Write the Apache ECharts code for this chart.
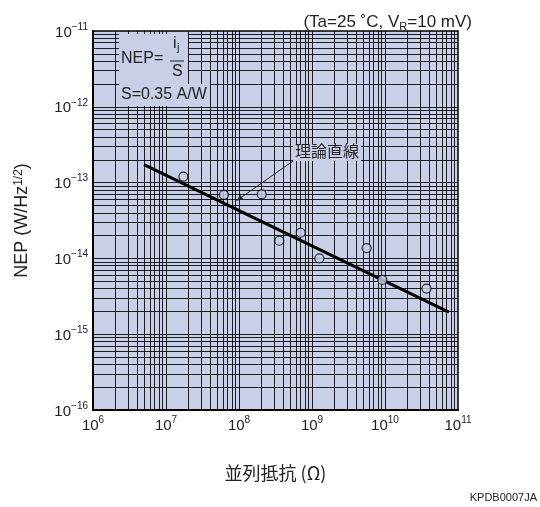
<!DOCTYPE html>
<html>
<head>
<meta charset="utf-8">
<script src="https://cdn.jsdelivr.net/npm/echarts@6/dist/echarts.min.js"></script>
<style>
html, body { margin: 0; padding: 0; background: #fff; }
#chart { width: 540px; height: 507px; }
</style>
</head>
<body>
<div id="chart"></div>
<script>
var resistance = [1.73e7, 6.2e7, 2.05e8, 3.56e8, 7.0e8, 1.26e9, 5.6e9, 9.2e9, 3.7e10];
var nep = [1.2e-13, 6.9e-14, 7.0e-14, 1.71e-14, 2.18e-14, 1.0e-14, 1.37e-14, 5.2e-15, 4.0e-15];

// theoretical line end points
var theoryR = [5.0e6, 7.5e10];
var theoryNep = [1.73e-13, 1.96e-15];

var xDecades = [6, 7, 8, 9, 10, 11];
var yDecades = [-16, -15, -14, -13, -12, -11];

var BG = '#c8cfe7';
var FONT = '"Liberation Sans", Arial, sans-serif';
var CJK = '"Noto Sans CJK JP", "Noto Sans CJK SC", sans-serif';

var xMin = Math.pow(10, xDecades[0]), xMax = Math.pow(10, xDecades[xDecades.length - 1]);
var yMin = Math.pow(10, yDecades[0]), yMax = Math.pow(10, yDecades[yDecades.length - 1]);

function gridValues(decades) {
    var out = [];
    for (var i = 0; i < decades.length - 1; i++) {
        for (var m = 1; m <= 9; m++) {
            if (m === 1 && i === 0) continue;
            out.push(m * Math.pow(10, decades[i]));
        }
    }
    return out;
}

// log grid as line segments in data space
var gridLines = [];
gridValues(xDecades).forEach(function (v) { gridLines.push({ coords: [[v, yMin], [v, yMax]] }); });
gridValues(yDecades).forEach(function (v) { gridLines.push({ coords: [[xMin, v], [xMax, v]] }); });

function powLabel(v) {
    var e = Math.round(Math.log10(v));
    var s = e < 0 ? '\u2212' + (-e) : '' + e;
    return '{b|10}{s|' + s + '}';
}

var powRich = {
    b: { fontFamily: FONT, fontSize: 15, color: '#222', lineHeight: 18, verticalAlign: 'bottom' },
    s: { fontFamily: FONT, fontSize: 10, color: '#222', lineHeight: 10, verticalAlign: 'top' }
};

var chart = echarts.init(document.getElementById('chart'));

chart.setOption({
    animation: false,
    backgroundColor: '#fff',
    title: {
        text: '(Ta=25 \u02daC, V{r|R}=10 mV)',
        right: 63,
        top: 7,
        textStyle: {
            fontFamily: FONT, fontSize: 17, fontWeight: 'normal', color: '#222', lineHeight: 20,
            rich: { r: { fontFamily: FONT, fontSize: 11, color: '#222', verticalAlign: 'bottom', lineHeight: 16 } }
        }
    },
    grid: {
        left: 93, right: 82, top: 31, bottom: 97,
        show: true,
        backgroundColor: BG,
        borderColor: '#000',
        borderWidth: 1.5
    },
    xAxis: {
        type: 'log',
        logBase: 10,
        min: xMin,
        max: xMax,
        name: '並列抵抗 (Ω)',
        nameLocation: 'middle',
        nameGap: 54,
        nameTextStyle: { fontFamily: CJK, fontSize: 18, color: '#222' },
        axisLine: { lineStyle: { color: '#000', width: 2 } },
        axisTick: { show: false },
        splitLine: { show: false },
        axisLabel: { formatter: powLabel, rich: powRich, margin: 5 }
    },
    yAxis: {
        type: 'log',
        logBase: 10,
        min: yMin,
        max: yMax,
        name: 'NEP (W/Hz{s|1/2})',
        nameLocation: 'middle',
        nameGap: 62,
        nameTextStyle: {
            fontFamily: FONT, fontSize: 18, color: '#222',
            rich: { s: { fontFamily: FONT, fontSize: 12, color: '#222', verticalAlign: 'top', lineHeight: 12 } }
        },
        axisLine: { lineStyle: { color: '#000', width: 2 } },
        axisTick: { show: false },
        splitLine: { show: false },
        axisLabel: { formatter: powLabel, rich: powRich, margin: 5 }
    },
    series: [
        {
            name: 'grid',
            type: 'lines',
            coordinateSystem: 'cartesian2d',
            silent: true,
            z: 1,
            lineStyle: { color: '#000', width: 1, opacity: 0.85 },
            data: gridLines
        },
        {
            name: '理論直線',
            type: 'line',
            data: theoryR.map(function (r, i) { return [r, theoryNep[i]]; }),
            showSymbol: false,
            lineStyle: { color: '#000', width: 3 },
            z: 5
        },
        {
            name: 'NEP',
            type: 'scatter',
            data: resistance.map(function (r, i) { return [r, nep[i]]; }),
            symbol: 'circle',
            symbolSize: 9,
            itemStyle: { color: BG, borderColor: '#000', borderWidth: 1.2 },
            z: 6
        }
    ],
    graphic: [
        // formula box in the upper left corner
        { type: 'rect', z: 10, shape: { x: 119, y: 34, width: 69, height: 58 }, style: { fill: BG } },
        { type: 'rect', z: 10, shape: { x: 119, y: 84, width: 91, height: 22 }, style: { fill: BG } },
        { type: 'text', z: 11, left: 121, top: 51, style: { text: 'NEP=', font: '16px ' + FONT, fill: '#222' } },
        { type: 'text', z: 11, left: 173, top: 36, style: { text: 'i', font: '16px ' + FONT, fill: '#222' } },
        { type: 'text', z: 11, left: 177, top: 42, style: { text: 'j', font: '11px ' + FONT, fill: '#222' } },
        { type: 'line', z: 11, shape: { x1: 170, y1: 61, x2: 184, y2: 61 }, style: { stroke: '#222', lineWidth: 1 } },
        { type: 'text', z: 11, left: 172, top: 64, style: { text: 'S', font: '16px ' + FONT, fill: '#222' } },
        { type: 'text', z: 11, left: 121, top: 87, style: { text: 'S=0.35 A/W', font: '16px ' + FONT, fill: '#222' } },
        // label of the theoretical line
        { type: 'rect', z: 10, shape: { x: 293, y: 144, width: 68, height: 17 }, style: { fill: BG } },
        { type: 'text', z: 11, left: 295, top: 143, style: { text: '理論直線', font: '16px ' + CJK, fill: '#222' } },
        { type: 'line', z: 11, shape: { x1: 293, y1: 161, x2: 239, y2: 199 }, style: { stroke: '#222', lineWidth: 1 } },
        { type: 'polygon', z: 11, shape: { points: [[236, 201], [243.2, 199.1], [240.3, 194.9]] }, style: { fill: '#222' } },
        // figure code
        { type: 'text', z: 11, right: 3, top: 492, style: { text: 'KPDB0007JA', font: '11px ' + FONT, fill: '#222' } }
    ]
});
</script>
</body>
</html>
